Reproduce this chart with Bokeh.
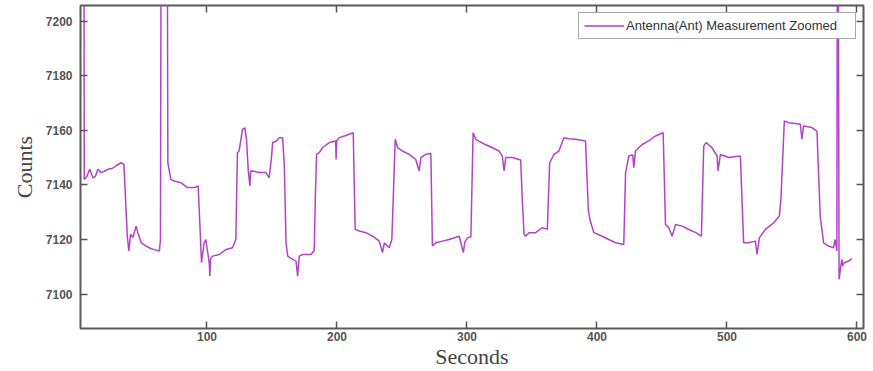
from bokeh.plotting import figure
from bokeh.models import Range1d, LinearAxis, FixedTicker, Legend, LegendItem, CustomLabelingPolicy
from bokeh.embed import file_html
from bokeh.resources import INLINE

# Time (seconds) and counts
seconds = [3.0, 5.3, 5.6, 7.5, 9.8, 12.3, 14, 16.1, 18.6, 21, 23.8, 27, 30, 34, 36.1,
           38.7, 39.9, 41.2, 43, 45.5, 46.8, 49.4, 53.2, 57, 60, 63.4, 64.2, 64.8, 69.3,
           69.9, 72.2, 74.8, 79.9, 85, 90.1, 93.2, 94.8, 95.8, 97.8, 99.1, 101.7, 102.2,
           102.8, 104.3, 109.4, 114.5, 119.6, 122.2, 123.4, 124.7, 127.3, 129.1, 130.4,
           131.7, 133, 133.6, 135, 140.1, 145.3, 147.8, 149.6, 150.5, 153.1, 155.7, 158.2,
           159.5, 160.8, 162.1, 165.9, 168.5, 169.7, 171, 173.6, 180, 182.5, 183.3, 184.3,
           186.4, 189, 194.1, 199, 199.3, 199.8, 201.7, 206.9, 212.5, 214, 217.1, 222.3,
           227.4, 232.5, 235, 236.4, 240.2, 242.2, 244.8, 246.6, 250.4, 255.5, 260.6,
           263.2, 264.5, 268.3, 272.2, 273.4, 276, 281.1, 286.3, 294, 297.2, 298.3, 300.4,
           303, 304.7, 306.8, 309, 314, 319.5, 324.7, 327.2, 328.5, 329.8, 334.9, 341.3,
           342.5, 343.9, 345.1, 347.7, 352.8, 357.9, 361.8, 363.6, 366.9, 370.7, 374.6,
           378.4, 383.5, 391.2, 393.3, 394.5, 397.6, 404, 409.1, 414.3, 420.6, 422, 424.5,
           427.5, 428.3, 429.6, 434.7, 439.8, 445, 450.9, 452.7, 455.2, 457.8, 460.4,
           465.5, 473.1, 476, 480.3, 482.1, 483.9, 488.5, 492.4, 493.1, 494.9, 501.3,
           510.3, 512.8, 516.6, 521.8, 523.1, 524.9, 529.5, 535.9, 540.3, 541.5, 544.1,
           547.4, 552.5, 556.4, 557.6, 558.9, 565.3, 569.2, 571.7, 574.3, 578.1, 581.9,
           583.2, 584.5, 585, 585.5, 586.2, 588.3, 589, 590.2, 593.5, 596]
counts = [7260, 7260, 7142, 7143, 7145.7, 7142.6, 7143, 7145.7, 7144.5, 7145, 7145.7, 7146,
          7147, 7148.1, 7147.5, 7121.2, 7115.8, 7121.9, 7120.7, 7124.9, 7122.5, 7118.8,
          7117.6, 7116.6, 7116.2, 7115.8, 7120, 7260, 7260, 7148.1, 7142, 7141.4, 7140.8,
          7139, 7139, 7139.6, 7122.5, 7111.5, 7118.8, 7120, 7111.5, 7106.6, 7113, 7113.9,
          7114.5, 7116.3, 7117, 7120, 7151.8, 7152.4, 7160.3, 7160.9, 7156.6, 7145.7,
          7139.6, 7145, 7145.1, 7144.5, 7144.5, 7142.6, 7150, 7155.5, 7156, 7157.3, 7157.3,
          7146.9, 7118.8, 7113.9, 7112.7, 7112.1, 7106.6, 7113.9, 7114.5, 7114.5, 7116,
          7134.7, 7151.2, 7151.8, 7153.7, 7155.5, 7156.1, 7149.3, 7156.3, 7157.3, 7158.1,
          7159.1, 7123.7, 7123.1, 7122.5, 7121.2, 7119.4, 7115.2, 7118.8, 7117, 7120,
          7156.7, 7153.7, 7152.4, 7151.2, 7149.3, 7145.1, 7150, 7151.2, 7151.5, 7117.6,
          7118.8, 7119.4, 7120, 7121.2, 7115.2, 7119, 7120.6, 7121, 7159.1, 7156.7, 7156,
          7154.8, 7153.6, 7152.4, 7150.5, 7145.1, 7150, 7150, 7149.1, 7135, 7121.9,
          7121.2, 7122.5, 7122.5, 7124.3, 7123.7, 7148.1, 7151.2, 7152.4, 7157.3, 7156.9,
          7156.7, 7156.1, 7131, 7127.3, 7122.5, 7121.2, 7120, 7118.8, 7118.2, 7144.5,
          7150.6, 7151, 7146.3, 7152.4, 7154.8, 7156.1, 7157.9, 7159.1, 7125.5, 7124.3,
          7121.2, 7125.5, 7124.9, 7123.1, 7122.5, 7121.2, 7154.2, 7155.5, 7153.6, 7150.5,
          7145.1, 7151.1, 7150, 7150.6, 7118.8, 7118.8, 7119.4, 7114.5, 7120.6, 7123.7,
          7126.1, 7128.6, 7135, 7163.4, 7162.8, 7162.5, 7162.2, 7156.7, 7161.6, 7161,
          7159.7, 7128.6, 7118.8, 7117.6, 7117, 7120, 7115.8, 7260, 7260, 7105.4, 7112.7,
          7110.3, 7111.5, 7112.1, 7113]

x_ticks = [100, 200, 300, 400, 500, 600]
y_ticks = [7100, 7120, 7140, 7160, 7180, 7200]
series_name = "Antenna(Ant) Measurement Zoomed"

p = figure(width=868, height=371, output_backend="svg", toolbar_location=None,
           x_range=Range1d(2.7, 605), y_range=Range1d(7087.4, 7205.7),
           min_border_left=80, min_border_right=3, min_border_top=5, min_border_bottom=41)
p.xaxis.visible = False
p.yaxis.visible = False
p.grid.visible = False
p.outline_line_color = "#5a5a5a"
p.outline_line_width = 2
p.background_fill_color = "white"

line = p.line(seconds, counts, line_color="#b442c8", line_width=1.5)

def style(ax, labels=True):
    ax.axis_line_color = None
    ax.major_tick_in = 7
    ax.major_tick_out = 0
    ax.major_tick_line_color = "#555555"
    ax.major_tick_line_width = 1.5
    ax.minor_tick_line_color = None
    if labels:
        ax.major_label_text_font = "Liberation Sans"
        ax.major_label_text_font_style = "bold"
        ax.major_label_text_font_size = "12px"
        ax.major_label_text_color = "#555555"
    else:
        ax.major_label_policy = CustomLabelingPolicy(code="")
        ax.major_label_text_font_size = "1px"
        ax.major_label_standoff = 0

xb = LinearAxis(ticker=FixedTicker(ticks=x_ticks), axis_label="Seconds")
style(xb)
xb.major_label_standoff = 3
xb.axis_label_text_font = "Liberation Serif"
xb.axis_label_text_font_style = "normal"
xb.axis_label_text_font_size = "22px"
xb.axis_label_text_color = "#444444"
xb.axis_label_standoff = 0
p.add_layout(xb, "below")

yl = LinearAxis(ticker=FixedTicker(ticks=y_ticks), axis_label="Counts")
style(yl)
yl.major_label_standoff = 8
yl.axis_label_text_font = "Liberation Serif"
yl.axis_label_text_font_style = "normal"
yl.axis_label_text_font_size = "22px"
yl.axis_label_text_color = "#444444"
yl.axis_label_standoff = 6
p.add_layout(yl, "left")

xt = LinearAxis(ticker=FixedTicker(ticks=x_ticks))
style(xt, labels=False)
p.add_layout(xt, "above")
yr = LinearAxis(ticker=FixedTicker(ticks=y_ticks))
style(yr, labels=False)
p.add_layout(yr, "right")

legend = Legend(items=[LegendItem(label=series_name, renderers=[line])],
                location="top_right")
legend.label_text_font = "Liberation Sans"
legend.label_text_font_size = "13px"
legend.label_text_color = "#333333"
legend.glyph_width = 40
legend.glyph_height = 13
legend.label_standoff = 2
legend.label_width = 224
legend.padding = 5
legend.spacing = 0
legend.margin = 7
legend.label_height = 13
legend.border_line_color = "#555555"
legend.border_line_width = 1.5
p.add_layout(legend, "center")

open("out.html", "w").write(file_html(p, INLINE))
